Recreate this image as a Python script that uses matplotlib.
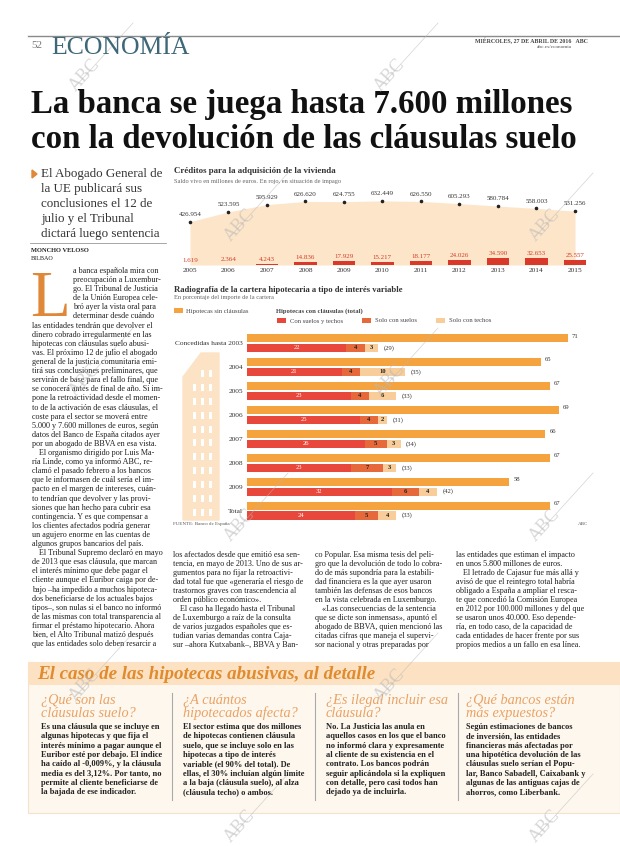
import numpy as np
import matplotlib.pyplot as plt
from matplotlib.patches import Rectangle, Polygon

W, H = 620, 846

# data: créditos vivienda (millones de euros)
years = [2005, 2006, 2007, 2008, 2009, 2010, 2011, 2012, 2013, 2014, 2015]
saldo_vivo = [426954, 523595, 595929, 626620, 624755, 632449, 626550, 605293, 580784, 558003, 531256]
impago = [1619, 2364, 4243, 14836, 17929, 15217, 18177, 24026, 34590, 32653, 25557]

# data: cartera hipotecaria a tipo variable (% del importe)
periodos = ["Concedidas hasta 2003", "2004", "2005", "2006", "2007", "2008", "2009", "Total"]
sin_clausulas = [71, 65, 67, 69, 66, 67, 58, 67]
suelos_y_techos = [22, 21, 23, 25, 26, 23, 32, 24]
solo_suelos = [4, 4, 4, 4, 5, 7, 6, 5]
solo_techos = [3, 10, 6, 2, 3, 3, 4, 4]

# text of the page
cuerpo_1 = [
    "las entidades tendrán que devolver el",
    "dinero cobrado irregularmente en las",
    "hipotecas con cláusulas suelo abusi-",
    "vas. El próximo 12 de julio el abogado",
    "general de la justicia comunitaria emi-",
    "tirá sus conclusiones preliminares, que",
    "servirán de base para el fallo final, que",
    "se conocerá antes de final de año. Si im-",
    "pone la retroactividad desde el momen-",
    "to de la activación de esas cláusulas, el",
    "coste para el sector se moverá entre",
    "5.000 y 7.600 millones de euros, según",
    "datos del Banco de España citados ayer",
    "por un abogado de BBVA en esa vista.",
    "\tEl organismo dirigido por Luis Ma-",
    "ría Linde, como ya informó ABC, re-",
    "clamó el pasado febrero a los bancos",
    "que le informasen de cuál sería el im-",
    "pacto en el margen de intereses, cuán-",
    "to tendrían que devolver y las provi-",
    "siones que han hecho para cubrir esa",
    "contingencia. Y es que compensar a",
    "los clientes afectados podría generar",
    "un agujero enorme en las cuentas de",
    "algunos grupos bancarios del país.",
    "\tEl Tribunal Supremo declaró en mayo",
    "de 2013 que esas cláusula, que marcan",
    "el interés mínimo que debe pagar el",
    "cliente aunque el Euribor caiga por de-",
    "bajo –ha impedido a muchos hipoteca-",
    "dos beneficiarse de los actuales bajos",
    "tipos–, son nulas si el banco no informó",
    "de las mismas con total transparencia al",
    "firmar el préstamo hipotecario. Ahora",
    "bien, el Alto Tribunal matizó después",
    "que las entidades solo deben resarcir a",
]
cuerpo_2 = [
    "los afectados desde que emitió esa sen-",
    "tencia, en mayo de 2013. Uno de sus ar-",
    "gumentos para no fijar la retroactivi-",
    "dad total fue que «generaría el riesgo de",
    "trastornos graves con trascendencia al",
    "orden público económico».",
    "\tEl caso ha llegado hasta el Tribunal",
    "de Luxemburgo a raíz de la consulta",
    "de varios juzgados españoles que es-",
    "tudian varias demandas contra Caja-",
    "sur –ahora Kutxabank–, BBVA y Ban-",
]
cuerpo_3 = [
    "co Popular. Esa misma tesis del peli-",
    "gro que la devolución de todo lo cobra-",
    "do de más supondría para la estabili-",
    "dad financiera es la que ayer usaron",
    "también las defensas de esos bancos",
    "en la vista celebrada en Luxemburgo.",
    "\t«Las consecuencias de la sentencia",
    "que se dicte son inmensas», apuntó el",
    "abogado de BBVA, quien mencionó las",
    "citadas cifras que maneja el supervi-",
    "sor nacional y otras preparadas por",
]
cuerpo_4 = [
    "las entidades que estiman el impacto",
    "en unos 5.800 millones de euros.",
    "\tEl letrado de Cajasur fue más allá y",
    "avisó de que el reintegro total habría",
    "obligado a España a ampliar el resca-",
    "te que concedió la Comisión Europea",
    "en 2012 por 100.000 millones y del que",
    "se usaron unos 40.000. Eso depende-",
    "ría, en todo caso, de la capacidad de",
    "cada entidades de hacer frente por sus",
    "propios medios a un fallo en esa línea.",
]
inicio = [
    "a banca española mira con",
    "preocupación a Luxembur-",
    "go. El Tribunal de Justicia",
    "de la Unión Europea cele-",
    "bró ayer la vista oral para",
    "determinar desde cuándo",
]
entradilla = [
    "El Abogado General de",
    "la UE publicará sus",
    "conclusiones el 12 de",
    "julio y el Tribunal",
    "dictará luego sentencia",
]
preguntas = [
    ("¿Qué son las\ncláusulas suelo?", [
        "Es una cláusula que se incluye en",
        "algunas hipotecas y que fija el",
        "interés mínimo a pagar aunque el",
        "Euribor esté por debajo. El índice",
        "ha caído al -0,009%, y la cláusula",
        "media es del 3,12%. Por tanto, no",
        "permite al cliente beneficiarse de",
        "la bajada de ese indicador."]),
    ("¿A cuántos\nhipotecados afecta?", [
        "El sector estima que dos millones",
        "de hipotecas contienen cláusula",
        "suelo, que se incluye solo en las",
        "hipotecas a tipo de interés",
        "variable (el 90% del total). De",
        "ellas, el 30% incluían algún límite",
        "a la baja (cláusula suelo), al alza",
        "(cláusula techo) o ambos."]),
    ("¿Es ilegal incluir esa\ncláusula?", [
        "No. La Justicia las anula en",
        "aquellos casos en los que el banco",
        "no informó clara y expresamente",
        "al cliente de su existencia en el",
        "contrato. Los bancos podrán",
        "seguir aplicándola si la expliquen",
        "con detalle, pero casi todos han",
        "dejado ya de incluirla."]),
    ("¿Qué bancos están\nmás expuestos?", [
        "Según estimaciones de bancos",
        "de inversión, las entidades",
        "financieras más afectadas por",
        "una hipotética devolución de las",
        "cláusulas suelo serían el Popu-",
        "lar, Banco Sabadell, Caixabank y",
        "algunas de las antiguas cajas de",
        "ahorros, como Liberbank."]),
]

SERIF = ['Liberation Serif', 'DejaVu Serif']
plt.rcParams['font.family'] = SERIF

NARANJA = '#f4a33f'
ROJO = '#e8473b'
SUELOS = '#e5693a'
TECHOS = '#f9cd99'
TEXTO = '#222222'


def fx(x):
    return x / W


def fy(y):
    return 1 - y / H


fig = plt.figure(figsize=(W / 100, H / 100), dpi=100)
fig.patch.set_facecolor('white')


def txt(x, y, s, size, **kw):
    kw.setdefault('color', TEXTO)
    kw.setdefault('va', 'center')
    return fig.text(fx(x), fy(y), s, fontsize=size, **kw)


def rect(x, y, w, h, color, **kw):
    fig.add_artist(Rectangle((fx(x), fy(y + h)), w / W, h / H, facecolor=color,
                             transform=fig.transFigure, **kw))


def hline(x0, x1, y, color='#999999', lw=0.6):
    fig.add_artist(plt.Line2D([fx(x0), fx(x1)], [fy(y), fy(y)], color=color, lw=lw,
                              transform=fig.transFigure))


def vline(x, y0, y1, color='#aaaaaa', lw=0.8):
    fig.add_artist(plt.Line2D([fx(x), fx(x)], [fy(y0), fy(y1)], color=color, lw=lw,
                              transform=fig.transFigure))


def columna(x, y0, lines, size=5.9, step=9.1, **kw):
    for i, l in enumerate(lines):
        dx = 0
        if l.startswith('\t'):
            l = l[1:]
            dx = 7
        txt(x + dx, y0 + i * step, l, size, **kw)


def miles(v):
    return f"{v:,}".replace(",", ".")


# cabecera
hline(28, 620, 36, color='#8a8a8a', lw=1.0)
txt(31, 46, "52", 8, color='#777777')
txt(51, 48, "ECONOMÍA", 18.5, color='#3e6878')
txt(588, 41, "MIÉRCOLES, 27 DE ABRIL DE 2016   ABC", 4.2, ha='right', weight='bold', color='#444444')
txt(572, 47, "abc.es/economia", 3.8, ha='right', color='#555555')

txt(31, 105, "La banca se juega hasta 7.600 millones", 23.7, weight='bold', color='#111111')
txt(31, 140, "con la devolución de las cláusulas suelo", 23.7, weight='bold', color='#111111')

# entradilla y firma
fig.add_artist(Polygon([[fx(32), fy(170)], [fx(32), fy(178)], [fx(37), fy(174)]],
                       closed=True, color='#e0883a', transform=fig.transFigure))
for i, l in enumerate(entradilla):
    txt(41, 174 + i * 15, l, 9.4, color='#333333')
hline(30, 166, 243)
txt(31, 251, "MONCHO VELOSO", 4.6, weight='bold')
txt(31, 259, "BILBAO", 4.4)

# capitular y texto
txt(30, 316, "L", 47, va='baseline', color='#e0883a')
columna(73, 271, inicio)
columna(32, 271 + 6 * 9.1, cuerpo_1)
columna(173, 555, cuerpo_2, step=9.0)
columna(315, 555, cuerpo_3, step=9.0)
columna(456, 555, cuerpo_4, step=9.0)

# gráfico 1: créditos para la adquisición de la vivienda
txt(174, 171, "Créditos para la adquisición de la vivienda", 6.4, weight='bold', color='#333333')
txt(174, 181, "Saldo vivo en millones de euros. En rojo, en situación de impago", 4.6, color='#666666')

ax1 = fig.add_axes([fx(173), fy(265), (590 - 173) / W, (265 - 194) / H])
ax1.set_xlim(2005 - 17 / 38.5, 2015 + 15 / 38.5)
ax1.set_ylim(0, 700000)
ax1.fill_between(years, saldo_vivo, color='#fde5c9', lw=0)
ax1.scatter(years, saldo_vivo, s=2.5, color='#222222', zorder=3)
for x, v in zip(years, saldo_vivo):
    ax1.annotate(miles(v), (x, v), xytext=(0, 3.5), textcoords='offset points',
                 ha='center', va='bottom', fontsize=5, color='#333333')
ax1.set_xticks(years)
ax1.set_xticklabels([str(y) for y in years], fontsize=5.3, color='#333333')
ax1.tick_params(length=0, pad=2.2)
ax1.set_yticks([])
for s in ax1.spines.values():
    s.set_visible(False)
ax1.patch.set_visible(False)

ax1b = ax1.twinx()
ax1b.set_ylim(0, 350000)
ax1b.bar(years, impago, width=0.58, color='#d8392b', zorder=3)
for x, v in zip(years, impago):
    ax1b.annotate(miles(v), (x, v), xytext=(0, 1.5), textcoords='offset points',
                  ha='center', va='bottom', fontsize=5, color='#d23c26')
ax1b.set_yticks([])
for s in ax1b.spines.values():
    s.set_visible(False)

# gráfico 2: radiografía de la cartera hipotecaria
txt(174, 290, "Radiografía de la cartera hipotecaria a tipo de interés variable", 6.2, weight='bold', color='#333333')
txt(174, 298, "En porcentaje del importe de la cartera", 4.6, color='#666666')
rect(174, 308, 9, 5, NARANJA)
txt(186, 311, "Hipotecas sin cláusulas", 4.8, color='#444444')
txt(276, 311, "Hipotecas con cláusulas (total)", 4.8, weight='bold', color='#444444')
for x, c, lab in [(277, ROJO, "Con suelos y techos"), (362, SUELOS, "Solo con suelos"),
                  (436, TECHOS, "Solo con techos")]:
    rect(x, 318, 9, 5, c)
    txt(x + 13, 321, lab, 4.8, color='#444444')

# edificio
fig.add_artist(Polygon([[fx(183), fy(520)], [fx(183), fy(377)], [fx(201), fy(353)],
                        [fx(219), fy(353)], [fx(219), fy(520)]],
                       closed=True, color='#fce3c5', transform=fig.transFigure))
for i in range(11):
    for j, wx in enumerate([193, 201, 209]):
        if i == 0 and j == 0:
            continue
        rect(wx, 370 + i * 13.9, 3, 7, 'white')

ax2 = fig.add_axes([fx(247), fy(525), (590 - 247) / W, 200 / H])
esc = 4.52
ax2.set_xlim(0, (590 - 247) / esc)
ax2.set_ylim(7 + 14 / 24 + 0.02, -0.75)
pos = np.arange(len(periodos))
ax2.barh(pos - 0.208, sin_clausulas, height=0.34, color=NARANJA)
izq = np.zeros(len(periodos))
for vals, c, tc in [(suelos_y_techos, ROJO, 'white'), (solo_suelos, SUELOS, TEXTO),
                    (solo_techos, TECHOS, TEXTO)]:
    ax2.barh(pos + 0.208, vals, left=izq, height=0.34, color=c)
    for p, l, v in zip(pos, izq, vals):
        ax2.text(l + v / 2, p + 0.208, str(v), ha='center', va='center', fontsize=4.8,
                 color=tc, weight='bold' if tc == TEXTO else 'normal')
    izq = izq + np.array(vals)
for p, v, t in zip(pos, sin_clausulas, izq):
    ax2.text(v + 0.9, p - 0.29, str(v), ha='left', va='center', fontsize=4.8, color='#333333')
    ax2.text(t + 1.2, p + 0.208, f"({int(t)})", ha='left', va='center', fontsize=4.8, color='#333333')
ax2.set_yticks(pos)
ax2.set_yticklabels(periodos, fontsize=5.3, color='#333333')
ax2.tick_params(length=0, pad=3)
ax2.set_xticks([])
for s in ax2.spines.values():
    s.set_visible(False)
ax2.patch.set_visible(False)

txt(173, 524, "FUENTE: Banco de España", 3.6, color='#555555')
txt(588, 524, "ABC", 3.6, ha='right', color='#555555')

# recuadro inferior
rect(28, 662, 592, 151, '#fdf7ee', edgecolor='#f1e3cc', lw=0.8)
rect(28, 662, 592, 23, '#fce2c2')
txt(37, 674, "El caso de las hipotecas abusivas, al detalle", 13.7, weight='bold',
    style='italic', color='#e08b2f')
for xs in [172, 315, 458]:
    vline(xs, 693, 800)
for (pregunta, lineas), x in zip(preguntas, [41, 183, 326, 466]):
    p1, p2 = pregunta.split('\n')
    txt(x, 700, p1, 10.3, style='italic', color='#eaa264')
    txt(x, 713, p2, 10.3, style='italic', color='#eaa264')
    columna(x, 727, lineas, size=6.0, step=9.3, weight='bold')

# marcas de agua
for wy, xs in [(75, [85, 390]), (225, [240, 545]), (380, [85, 390]),
               (525, [240, 545]), (685, [85, 390]), (826, [240, 545])]:
    for wx in xs:
        txt(wx, wy, "ABC", 13, ha='center', rotation=48, color='#b8b8b8', alpha=0.55, zorder=10)
        fig.add_artist(plt.Line2D([fx(wx - 10), fx(wx + 48)], [fy(wy + 12), fy(wy - 52)],
                                  color='#b8b8b8', lw=0.5, alpha=0.6, transform=fig.transFigure))

fig.savefig('out.png', dpi=100)
